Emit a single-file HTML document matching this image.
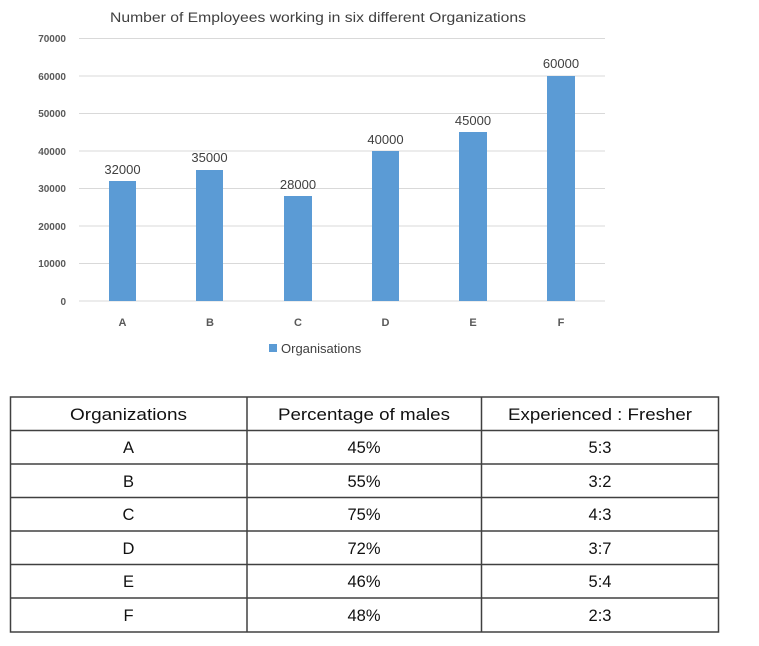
<!DOCTYPE html>
<html><head><meta charset="utf-8"><style>
html,body{margin:0;padding:0;background:#fff;}
svg{display:block;font-family:"Liberation Sans",sans-serif;}
</style></head><body>
<svg width="759" height="646" viewBox="0 0 759 646" xmlns="http://www.w3.org/2000/svg">
<text x="318" y="22" font-size="13.5" fill="#404040" text-anchor="middle" textLength="416" lengthAdjust="spacingAndGlyphs">Number of Employees working in six different Organizations</text>
<g stroke="#d9d9d9" stroke-width="1">
<line x1="79" x2="605" y1="38.5" y2="38.5"/>
<line x1="79" x2="605" y1="76" y2="76"/>
<line x1="79" x2="605" y1="113.5" y2="113.5"/>
<line x1="79" x2="605" y1="151" y2="151"/>
<line x1="79" x2="605" y1="188.5" y2="188.5"/>
<line x1="79" x2="605" y1="226" y2="226"/>
<line x1="79" x2="605" y1="263.5" y2="263.5"/>
<line x1="79" x2="605" y1="301" y2="301"/>
</g>
<g font-size="10" font-weight="bold" fill="#595959" text-anchor="end">
<text x="66" y="42">70000</text>
<text x="66" y="80">60000</text>
<text x="66" y="117">50000</text>
<text x="66" y="155">40000</text>
<text x="66" y="192">30000</text>
<text x="66" y="230">20000</text>
<text x="66" y="267">10000</text>
<text x="66" y="305">0</text>
</g>
<g fill="#5b9bd5">
<rect x="109" y="181" width="27" height="120"/>
<rect x="196" y="170" width="27" height="131"/>
<rect x="284" y="196" width="28" height="105"/>
<rect x="372" y="151" width="27" height="150"/>
<rect x="459" y="132" width="28" height="169"/>
<rect x="547" y="76" width="28" height="225"/>
</g>
<g font-size="13" fill="#404040" text-anchor="middle">
<text x="122.5" y="174">32000</text>
<text x="209.5" y="162">35000</text>
<text x="298" y="189">28000</text>
<text x="385.5" y="144">40000</text>
<text x="473" y="125">45000</text>
<text x="561" y="68">60000</text>
</g>
<g font-size="11" font-weight="bold" fill="#595959" text-anchor="middle">
<text x="122.5" y="326">A</text>
<text x="210" y="326">B</text>
<text x="298" y="326">C</text>
<text x="385.5" y="326">D</text>
<text x="473" y="326">E</text>
<text x="561" y="326">F</text>
</g>
<rect x="269" y="344" width="8" height="8" fill="#5b9bd5"/>
<text x="281" y="353" font-size="13" fill="#404040">Organisations</text>
<g stroke="#404040" stroke-width="1.5" fill="none">
<rect x="10.5" y="397" width="708" height="235"/>
<line x1="10" x2="719" y1="430.5" y2="430.5"/>
<line x1="10" x2="719" y1="464" y2="464"/>
<line x1="10" x2="719" y1="497.5" y2="497.5"/>
<line x1="10" x2="719" y1="531" y2="531"/>
<line x1="10" x2="719" y1="564.5" y2="564.5"/>
<line x1="10" x2="719" y1="598" y2="598"/>
<line x1="247" x2="247" y1="397" y2="632"/>
<line x1="481.5" x2="481.5" y1="397" y2="632"/>
</g>
<g font-size="16.5" fill="#111" text-anchor="middle">
<text x="128.5" y="420" textLength="117" lengthAdjust="spacingAndGlyphs">Organizations</text>
<text x="364" y="420" textLength="172" lengthAdjust="spacingAndGlyphs">Percentage of males</text>
<text x="600" y="420" textLength="184" lengthAdjust="spacingAndGlyphs">Experienced : Fresher</text>
<text x="128.5" y="453">A</text><text x="364" y="453">45%</text><text x="600" y="453">5:3</text>
<text x="128.5" y="487">B</text><text x="364" y="487">55%</text><text x="600" y="487">3:2</text>
<text x="128.5" y="520">C</text><text x="364" y="520">75%</text><text x="600" y="520">4:3</text>
<text x="128.5" y="554">D</text><text x="364" y="554">72%</text><text x="600" y="554">3:7</text>
<text x="128.5" y="587">E</text><text x="364" y="587">46%</text><text x="600" y="587">5:4</text>
<text x="128.5" y="621">F</text><text x="364" y="621">48%</text><text x="600" y="621">2:3</text>
</g>
</svg>
</body></html>
